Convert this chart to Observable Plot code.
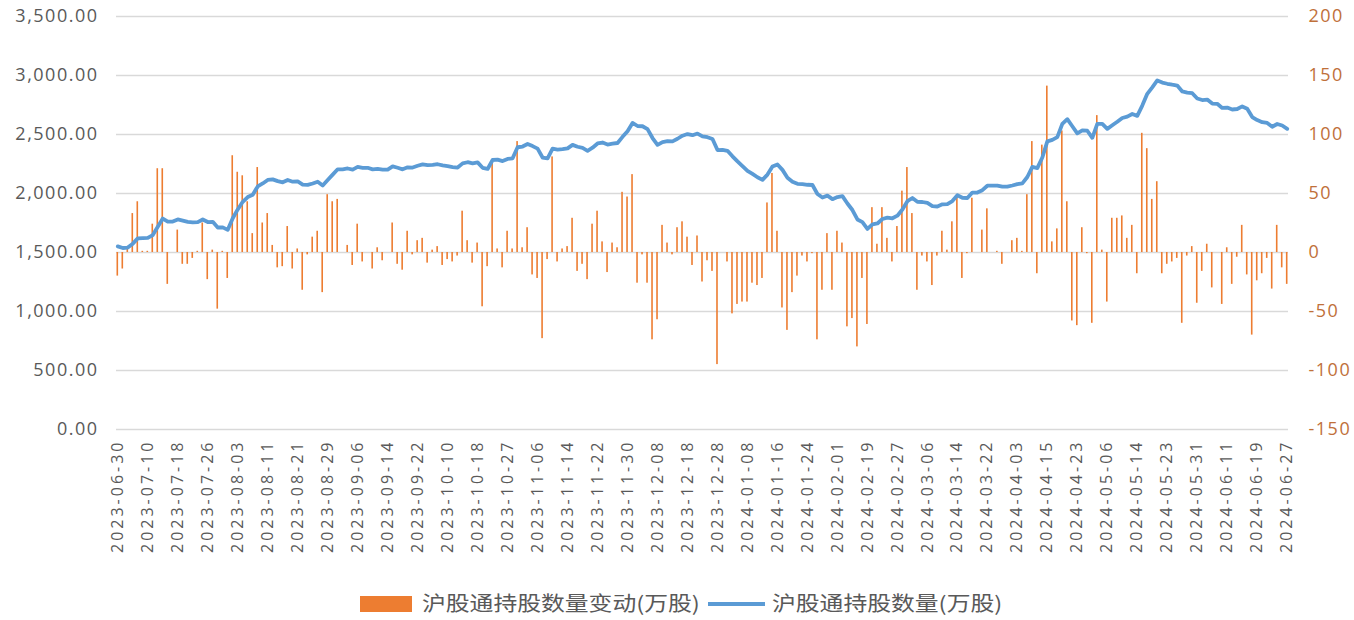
<!DOCTYPE html>
<html>
<head>
<meta charset="utf-8">
<script src="https://cdn.jsdelivr.net/npm/d3@7"></script>
<script src="https://cdn.jsdelivr.net/npm/@observablehq/plot@0.6"></script>
<style>
  html, body { margin: 0; padding: 0; background: #ffffff; }
  #chart { position: relative; width: 1354px; height: 620px; overflow: hidden; background: #fff; }
  #chart svg { position: absolute; left: 0; top: 0; }
  g[aria-label="y-axis tick label"] text { letter-spacing: 1.5px; }
  g[aria-label="x-axis tick label"] text { letter-spacing: 3px; }
  .lg { position: absolute; font-family: "Noto Sans CJK SC", sans-serif; font-size: 20px; line-height: 20px; color: #595959; transform: scaleX(1.19); transform-origin: left center; white-space: nowrap; }
</style>
</head>
<body>
<div id="chart"></div>
<script>
// Stock Connect trading-day calendar (weekends and these closures skipped)
const firstDay = "2023-06-30";
const lastDay = "2024-06-27";
const closedDays = [
  "2023-09-29","2023-10-02","2023-10-03","2023-10-04","2023-10-05","2023-10-06",
  "2023-10-23","2023-12-25","2023-12-26","2024-01-01",
  "2024-02-09","2024-02-12","2024-02-13","2024-02-14","2024-02-15","2024-02-16",
  "2024-03-29","2024-04-01","2024-04-04","2024-04-05",
  "2024-05-01","2024-05-02","2024-05-03","2024-05-15","2024-06-10"
];

// x-axis tick labels (every 6th trading day)
const tickLabels = [
  "2023-06-30","2023-07-10","2023-07-18","2023-07-26","2023-08-03","2023-08-11","2023-08-21","2023-08-29",
  "2023-09-06","2023-09-14","2023-09-22","2023-10-10","2023-10-18","2023-10-27","2023-11-06","2023-11-14",
  "2023-11-22","2023-11-30","2023-12-08","2023-12-18","2023-12-28","2024-01-08","2024-01-16","2024-01-24",
  "2024-02-01","2024-02-19","2024-02-27","2024-03-06","2024-03-14","2024-03-22","2024-04-03","2024-04-15",
  "2024-04-23","2024-05-06","2024-05-14","2024-05-23","2024-05-31","2024-06-11","2024-06-19","2024-06-27"
];

// 沪股通持股数量(万股) — left axis
const holdings = [
  1552,1538,1542,1575,1620,1622,1624,1648,1718,1788,1762,1762,1780,1770,1760,1756,1757,1780,1758,1760,1712,1713,1692,
  1790,1865,1930,1970,1990,2060,2085,2115,
  2120,2105,2095,2115,2100,2102,2075,2073,2085,2100,2068,2115,2160,2205,2205,2212,2202,2225,2218,2218,2204,2208,2202,2202,2230,2218,2205,2222,2220,
  2235,2247,2240,2242,2248,2238,2232,2224,2220,2255,2265,2256,2264,2218,2208,2284,2287,2275,2293,2298,
  2392,2398,2420,2402,2380,2305,2298,2380,2372,2376,2382,2412,2396,2386,2362,2388,2424,2432,2415,2422,
  2428,2480,2528,2598,2572,2570,2545,2470,2412,2436,2444,2442,2464,2490,2504,2494,2508,2484,2477,2462,2368,
  2370,2362,2315,2272,2232,2192,2166,2138,2116,2160,2228,2246,2200,2134,2100,2082,2080,2074,2072,1996,
  1966,1982,1952,1970,1978,1915,1860,1780,1757,1700,1738,1746,1784,1796,1790,1812,1864,1935,1962,1930,
  1928,1920,1893,1890,1908,1910,1936,1985,1964,1962,2008,2008,2028,2066,2066,2067,2058,2058,2068,2080,
  2086,2140,2225,2215,2305,2442,2455,2478,2590,2630,2570,2510,2535,2532,2472,2590,2590,2548,2578,2608,
  2640,2652,2674,2658,2745,2845,2900,2958,2940,2930,2922,2915,2865,2855,2850,2805,2792,2796,2762,2760,
  2725,2728,2712,2716,2738,2718,2648,2622,2604,2598,2566,2589,2576,2548
];

// 沪股通持股数量变动(万股) — right axis
const changes = [
  -20,-14,3,33,43,1,1,24,71,71,-27,0,19,-10,-10,-5,1,25,-23,2,
  -48,1,-22,82,68,65,43,16,72,25,33,6,-13,-12,22,-14,3,-32,-2,13,
  18,-34,49,43,45,0,6,-11,24,-8,0,-14,4,-7,0,25,-10,-15,18,-2,
  10,12,-9,2,5,-11,-6,-8,-3,35,10,-9,8,-46,-12,76,3,-13,18,3,
  94,4,21,-19,-22,-73,-6,81,-8,3,5,29,-16,-10,-23,24,35,9,-17,8,
  4,51,47,66,-26,-2,-26,-74,-57,23,8,-2,21,26,13,-11,14,-25,-7,-16,
  -95,0,-8,-52,-44,-42,-42,-26,-28,-22,42,67,18,-47,-66,-34,-20,-3,-8,-1,
  -74,-32,16,-32,18,8,-63,-56,-80,-22,-61,38,7,38,12,-8,22,52,72,33,
  -32,-3,-8,-28,-3,18,2,26,49,-22,-1,46,0,19,37,0,1,-10,0,10,
  12,1,49,94,-18,91,141,9,20,103,43,-58,-62,21,-1,-60,116,2,-42,29,
  29,31,12,23,-18,101,88,45,60,-18,-10,-8,-5,-60,-3,5,-43,-16,7,-30,
  0,-44,4,-27,-4,23,-19,-70,-24,-18,-5,-31,23,-13,-27
];

const leftTicks = [0, 500, 1000, 1500, 2000, 2500, 3000, 3500];
const rightTicks = [-150, -100, -50, 0, 50, 100, 150, 200];

// build trading dates
const closedSet = new Set(closedDays);
const dates = [];
{
  const [y0, m0, d0] = firstDay.split("-").map(Number);
  const [y1, m1, d1] = lastDay.split("-").map(Number);
  let t = Date.UTC(y0, m0 - 1, d0);
  const tEnd = Date.UTC(y1, m1 - 1, d1);
  while (t <= tEnd) {
    const dt = new Date(t);
    const wd = dt.getUTCDay();
    const s = dt.toISOString().slice(0, 10);
    if (wd !== 0 && wd !== 6 && !closedSet.has(s)) dates.push(s);
    t += 86400000;
  }
}

const n = Math.min(dates.length, holdings.length, changes.length);
const data = d3.range(n).map(i => ({date: dates[i], hold: holdings[i], chg: changes[i]}));

// right axis (-150..200) mapped onto the left axis (0..3500)
const toLeft = v => (v + 150) * 10;

const numFont = "'Open Sans', 'DejaVu Sans', sans-serif";

const chart = Plot.plot({
  width: 1354,
  height: 575,
  marginLeft: 116,
  marginRight: 66,
  marginTop: 16,
  marginBottom: 146,
  style: {fontFamily: numFont, fontSize: "18px", color: "#595959", background: "#ffffff", overflow: "visible"},
  x: {type: "band", domain: dates.slice(0, n), paddingInner: 0.68, paddingOuter: 0.1, label: null},
  y: {domain: [0, 3500], label: null},
  marks: [
    Plot.ruleY(leftTicks, {stroke: "#D9D9D9", strokeWidth: 1.4}),
    Plot.barY(data, {x: "date", y1: toLeft(0), y2: d => toLeft(d.chg), fill: "#ED7D31"}),
    Plot.line(data, {x: "date", y: "hold", stroke: "#5B9BD5", strokeWidth: 3.8, strokeLinejoin: "round", strokeLinecap: "round"}),
    Plot.axisY(leftTicks, {anchor: "left", tickSize: 0, tickPadding: 18, tickFormat: d3.format(",.2f"), fill: "#595959", label: null}),
    Plot.axisY(rightTicks.map(toLeft), {anchor: "right", tickSize: 0, tickPadding: 20, tickFormat: v => String(Math.round(v / 10 - 150)), fill: "#C0703A", label: null}),
    Plot.axisX(tickLabels, {anchor: "bottom", tickSize: 0, tickPadding: 10, tickRotate: -90, fontSize: 16, fill: "#595959", label: null})
  ]
});

const root = document.getElementById("chart");
root.appendChild(chart);

// legend below the chart
const legendItems = [
  {label: "沪股通持股数量变动(万股)", kind: "bar", color: "#ED7D31", keyLeft: 360, textLeft: 422},
  {label: "沪股通持股数量(万股)", kind: "line", color: "#5B9BD5", keyLeft: 708, textLeft: 772}
];
for (const it of legendItems) {
  const key = document.createElement("div");
  key.style.position = "absolute";
  key.style.background = it.color;
  key.style.left = it.keyLeft + "px";
  if (it.kind === "bar") { key.style.top = "596px"; key.style.width = "52px"; key.style.height = "16px"; }
  else { key.style.top = "602px"; key.style.width = "57px"; key.style.height = "3.5px"; }
  root.appendChild(key);
  const tx = document.createElement("div");
  tx.className = "lg";
  tx.textContent = it.label;
  tx.style.left = it.textLeft + "px";
  tx.style.top = "593px";
  root.appendChild(tx);
}
</script>
</body>
</html>
